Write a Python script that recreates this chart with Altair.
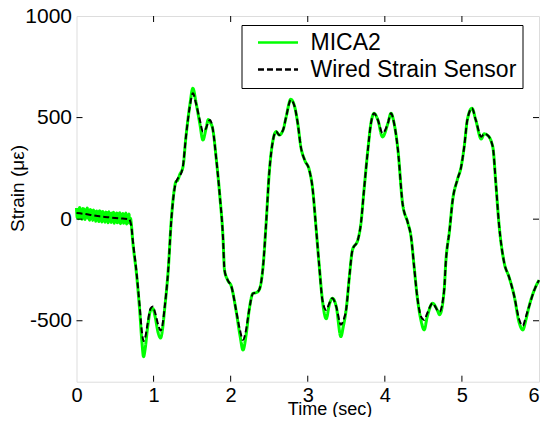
import altair as alt
import pandas as pd
import numpy as np

# ---------------- data ----------------
series_names = ["MICA2", "Wired Strain Sensor"]
x_tick_values = [0, 1, 2, 3, 4, 5, 6]
y_tick_values = [-500, 0, 500, 1000]
inner_x_ticks = [1, 2, 3, 4, 5]
inner_y_ticks = [-500, 0, 500]

wired_t = [0.00, 0.10, 0.20, 0.30, 0.40, 0.50, 0.60, 0.68,
           0.71, 0.73, 0.78, 0.82, 0.85, 0.87, 0.89, 0.92, 0.96, 0.99, 1.02, 1.06, 1.09, 1.12, 1.14,
           1.19, 1.23, 1.27, 1.29, 1.31, 1.34, 1.38, 1.42, 1.47, 1.51, 1.55, 1.60, 1.64, 1.68, 1.71,
           1.73, 1.77, 1.81, 1.86, 1.90, 1.92, 1.96, 2.01, 2.07, 2.12, 2.16, 2.20, 2.24, 2.29, 2.33,
           2.37, 2.42, 2.46, 2.50, 2.55, 2.59, 2.63, 2.68, 2.72, 2.78, 2.83, 2.87, 2.91, 2.96, 3.02,
           3.06, 3.11, 3.15, 3.19, 3.24, 3.28, 3.32, 3.37, 3.43, 3.46, 3.50, 3.54, 3.58, 3.65, 3.69,
           3.73, 3.78, 3.82, 3.86, 3.91, 3.97, 4.04, 4.08, 4.12, 4.17, 4.23, 4.30, 4.34, 4.38, 4.42,
           4.47, 4.51, 4.55, 4.62, 4.68, 4.71, 4.77, 4.79, 4.84, 4.88, 4.94, 4.99, 5.03, 5.07, 5.13,
           5.18, 5.25, 5.29, 5.33, 5.40, 5.44, 5.48, 5.55, 5.61, 5.68, 5.74, 5.79, 5.83, 5.87, 5.94, 6.00]
wired_v = [30, 26, 20, 14, 10, 6, 3, 0,
           -30, -102, -266, -430, -560, -600, -585, -520, -440, -430, -460, -520, -548, -510, -447,
           -250, -4, 144, 180, 198, 212, 258, 406, 554, 620, 570, 488, 431, 447, 478,
           488, 439, 308, 111, -86, -250, -299, -332, -447, -545, -594, -545, -447, -365, -362,
           -348, -234, -20, 226, 390, 431, 414, 439, 504, 587, 554, 472, 357, 291, 242,
           160, -53, -234, -398, -447, -414, -389, -431, -520, -500, -440, -283, -152, -102, -20,
           144, 341, 472, 521, 488, 423, 472, 521, 472, 341, 78, -20, -86, -234, -381,
           -480, -496, -463, -414, -447, -455, -348, -217, -53, 94, 193, 258, 357, 488, 546,
           488, 406, 420, 414, 357, 177, -20, -217, -283, -381, -490, -525, -480, -431, -348, -300]

# MICA2 (wireless) record: noisy start, sampled every 0.01 s from 0.00 to 0.70 s
mica_start_v = [55, 8, 48, 2, 58, 12, 45, 0, 52, 15,
                50, -2, 44, 10, 55, 4, 40, -5, 48, 8,
                42, -6, 45, 2, 38, -10, 40, 0, 35, -12,
                42, -4, 36, -14, 38, -2, 30, -15, 35, -8,
                32, -18, 36, -6, 28, -16, 30, -10, 34, -20,
                26, -12, 30, -18, 25, -14, 32, -22, 24, -10,
                28, -20, 22, -15, 30, -24, 20, -12, 25, -20, 5]
mica_t = wired_t[8:]
mica_v = [-20, -110, -275, -450, -610, -677, -640, -540, -450, -440, -480, -560, -585, -530, -455,
          -250, -4, 150, 185, 190, 220, 255, 406, 560, 644, 575, 470, 390, 445, 490,
          480, 439, 308, 111, -86, -250, -299, -332, -450, -570, -644, -570, -447, -365, -362,
          -348, -234, -20, 226, 390, 431, 414, 439, 504, 590, 554, 472, 357, 291, 242,
          160, -53, -234, -398, -490, -420, -389, -431, -578, -530, -440, -283, -152, -102, -20,
          144, 341, 472, 521, 488, 405, 472, 521, 472, 341, 78, -20, -86, -234, -381,
          -500, -545, -480, -414, -447, -470, -348, -217, -53, 94, 193, 258, 357, 488, 546,
          488, 395, 420, 414, 357, 177, -20, -217, -283, -381, -505, -545, -495, -431, -348, -300]

mica_start_t = list(np.round(np.arange(len(mica_start_v)) * 0.01, 2))

df_mica = pd.DataFrame({"t": mica_start_t + mica_t,
                        "v": mica_start_v + mica_v,
                        "series": series_names[0]})
df_wired = pd.DataFrame({"t": wired_t, "v": wired_v, "series": series_names[1]})
df_xt = pd.DataFrame({"t": inner_x_ticks})
df_yt = pd.DataFrame({"v": inner_y_ticks})

# ---------------- layout ----------------
W = 462.5
H = 365.7
FONT = "Liberation Sans"

xscale = alt.Scale(domain=[0, 6], nice=False, zero=False)
yscale = alt.Scale(domain=[-800, 1000], nice=False, zero=False)

x_axis = alt.Axis(values=x_tick_values, title="Time (sec)", labelFontSize=20, titleFontSize=18,
                  titleFontWeight="normal", labelPadding=4, ticks=False, domain=False, grid=False,
                  labelFlush=False, labelColor="black", titleColor="black",
                  labelFont=FONT, titleFont=FONT, labelExpr="'' + datum.value",
                  labelAlign={"condition": {"test": "datum.value == 6", "value": "right"},
                              "value": "center"},
                  titleX=253, titleY=18.5, titleAlign="center")
y_axis = alt.Axis(values=y_tick_values, title="Strain (με)", labelFontSize=21, titleFontSize=19,
                  titleFontWeight="normal", labelPadding=5, ticks=False, domain=False, grid=False,
                  labelFlush=False, labelColor="black", titleColor="black",
                  labelFont=FONT, titleFont=FONT, labelExpr="'' + datum.value",
                  titleX=-49, titleY=172, titleAlign="center")

legend = alt.Legend(title=None, orient="none", legendX=165, legendY=9, strokeColor="black",
                    fillColor="white", padding=6, symbolType="M-3,0H3", symbolSize=178,
                    symbolStrokeWidth=2.5, labelFontSize=23, labelFont=FONT, labelOffset=21,
                    rowPadding=3, symbolOffset=19, labelColor="black", labelLimit=400)

color_enc = alt.Color("series:N", scale=alt.Scale(domain=series_names, range=["#00ff00", "#000000"]),
                      legend=legend)
dash_enc = alt.StrokeDash("series:N", scale=alt.Scale(domain=series_names, range=[[1, 0], [6, 3]]),
                          legend=legend)

X = alt.X("t:Q", scale=xscale, axis=x_axis)
Y = alt.Y("v:Q", scale=yscale, axis=y_axis)

green = alt.Chart(df_mica).mark_line(strokeWidth=3, interpolate="monotone").encode(
    x=X, y=Y, color=color_enc, strokeDash=dash_enc)
black = alt.Chart(df_wired).mark_line(strokeWidth=2, interpolate="monotone").encode(
    x=X, y=Y, color=color_enc, strokeDash=dash_enc)

tick_len = 6
bottom_ticks = alt.Chart(df_xt).mark_rule(color="black", strokeWidth=1).encode(
    x=X, y=alt.value(H), y2=alt.value(H - tick_len))
top_ticks = alt.Chart(df_xt).mark_rule(color="black", strokeWidth=1).encode(
    x=X, y=alt.value(0), y2=alt.value(tick_len))
left_ticks = alt.Chart(df_yt).mark_rule(color="black", strokeWidth=1).encode(
    y=Y, x=alt.value(0), x2=alt.value(tick_len))
right_ticks = alt.Chart(df_yt).mark_rule(color="black", strokeWidth=1).encode(
    y=Y, x=alt.value(W), x2=alt.value(W - tick_len))

chart = alt.layer(green, black, bottom_ticks, top_ticks, left_ticks, right_ticks).properties(
    width=W, height=H,
    autosize=alt.AutoSizeParams(type="none"),
    padding={"left": 68.5, "top": 8, "right": 1, "bottom": 35.3},
    background="white",
).configure_view(stroke="black", strokeWidth=1).configure(font=FONT)

chart.save("out.html", embed_options={"renderer": "svg", "actions": False})
